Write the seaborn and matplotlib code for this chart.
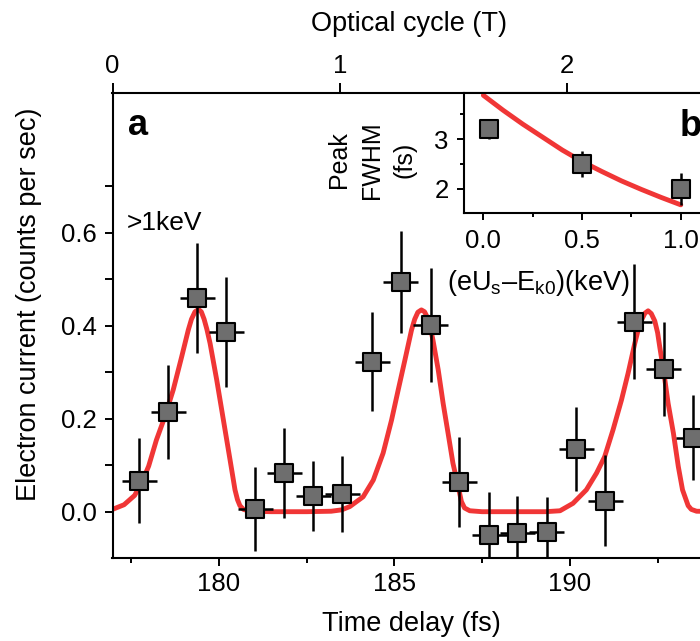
import numpy as np
import pandas as pd
import matplotlib
matplotlib.use("Agg")
import matplotlib.pyplot as plt
from matplotlib.ticker import FixedLocator
import seaborn as sns

# ---- panel a: electron current vs. time delay ----
delay = [177.73, 178.56, 179.38, 180.21, 181.04, 181.87, 182.69, 183.52, 184.37, 185.18,
         186.03, 186.85, 187.70, 188.50, 189.34, 190.18, 191.01, 191.84, 192.68, 193.51]
current = [0.067, 0.214, 0.460, 0.387, 0.006, 0.084, 0.034, 0.038, 0.323, 0.494,
           0.402, 0.064, -0.050, -0.046, -0.043, 0.135, 0.024, 0.409, 0.307, 0.159]
current_err = [0.091, 0.101, 0.118, 0.118, 0.091, 0.097, 0.076, 0.082, 0.106, 0.110,
               0.123, 0.097, 0.092, 0.080, 0.075, 0.091, 0.097, 0.123, 0.102, 0.091]
delay_err = [0.5] * len(delay)

# fitted current (red curve)
fit_delay = [176.97, 177.30, 177.60, 177.80, 178.00, 178.22, 178.46, 178.70, 178.94, 179.13,
             179.22, 179.32, 179.42, 179.50, 179.58, 179.66, 179.75, 179.94, 180.13, 180.32,
             180.46, 180.53, 180.60, 180.70, 180.88, 181.50, 182.50, 183.20, 183.50, 183.73,
             184.11, 184.40, 184.68, 184.92, 185.11, 185.30, 185.49, 185.58, 185.67, 185.77,
             185.86, 185.94, 186.02, 186.10, 186.25, 186.39, 186.53, 186.67, 186.82, 186.91,
             187.00, 187.15, 187.50, 188.50, 189.30, 189.72, 190.09, 190.47, 190.76, 190.99,
             191.23, 191.47, 191.66, 191.85, 191.95, 192.04, 192.14, 192.23, 192.32, 192.42,
             192.50, 192.56, 192.68, 192.80, 192.95, 193.09, 193.21, 193.37, 193.46, 193.61,
             194.50, 197.00]
fit_current = [0.005, 0.015, 0.035, 0.062, 0.098, 0.154, 0.204, 0.262, 0.333, 0.391,
               0.414, 0.430, 0.435, 0.430, 0.414, 0.392, 0.362, 0.283, 0.197, 0.111,
               0.047, 0.026, 0.013, 0.005, 0.001, 0.000, 0.000, 0.001, 0.004, 0.011,
               0.032, 0.068, 0.126, 0.197, 0.262, 0.326, 0.391, 0.414, 0.429, 0.434,
               0.430, 0.418, 0.398, 0.369, 0.305, 0.233, 0.169, 0.104, 0.054, 0.022,
               0.008, 0.002, 0.000, 0.000, 0.000, 0.002, 0.018, 0.047, 0.083, 0.118,
               0.176, 0.240, 0.298, 0.362, 0.392, 0.412, 0.427, 0.432, 0.426, 0.410,
               0.385, 0.355, 0.298, 0.233, 0.169, 0.097, 0.047, 0.013, 0.005, 0.001,
               0.000, 0.000]

# ---- panel b: peak FWHM vs. energy above threshold ----
energy = [0.03, 0.5, 1.0]
fwhm = [3.2, 2.5, 2.0]
fwhm_err = [0.2, 0.26, 0.32]
fit_energy = [0.0, 0.1, 0.2, 0.3, 0.4, 0.5, 0.6, 0.7, 0.8, 0.9, 1.0]
fit_fwhm = [3.88, 3.58, 3.30, 3.04, 2.78, 2.55, 2.35, 2.16, 1.99, 1.83, 1.68]

y_ticks = [0.0, 0.1, 0.2, 0.3, 0.4, 0.5, 0.6, 0.7]
y_ticklabels = ["0.0", "", "0.2", "", "0.4", "", "0.6", ""]
x_ticks = [180, 185, 190]
cycle_ticks = [0, 1, 2, 3]

RED = "#f03636"
GREY = "#6e6e6e"
FS = 18.5      # tick labels
FL = 19.5      # axis labels

sns.set_theme(style="ticks")
plt.rcParams["font.family"] = ["Liberation Sans", "DejaVu Sans"]
plt.rcParams["mathtext.fontset"] = "custom"
plt.rcParams["mathtext.rm"] = "Liberation Sans"
plt.rcParams["mathtext.it"] = "Liberation Sans:italic"
plt.rcParams["axes.linewidth"] = 1.5
plt.rcParams["xtick.major.width"] = 1.4
plt.rcParams["ytick.major.width"] = 1.4
plt.rcParams["xtick.minor.width"] = 1.4
plt.rcParams["ytick.minor.width"] = 1.4
plt.rcParams["text.color"] = "black"
plt.rcParams["axes.labelcolor"] = "black"
plt.rcParams["xtick.color"] = "black"
plt.rcParams["ytick.color"] = "black"

W, H = 700, 641
fig = plt.figure(figsize=(W / 100, H / 100), dpi=100)

T0, PERIOD = 176.97, 6.474
XMAX = 197.0
AX_W = (XMAX - T0) * 35.1
ax = fig.add_axes([112.5 / W, (H - 558.2) / H, AX_W / W, 465 / H])

sns.lineplot(x=fit_delay, y=fit_current, ax=ax, color=RED, lw=3.5,
             estimator=None, sort=False, zorder=2)
ax.errorbar(delay, current, xerr=delay_err, yerr=current_err, fmt="none",
            ecolor="black", elinewidth=1.8, capsize=0, zorder=3)
sns.scatterplot(x=delay, y=current, ax=ax, marker="s", s=155, color=GREY,
                edgecolor="black", linewidth=1.5, zorder=4)

ax.set_xlim(T0, XMAX)
ax.set_ylim(-0.1, 0.9)
ax.set_xticks(x_ticks)
ax.xaxis.set_minor_locator(FixedLocator([177.5, 182.5, 187.5, 192.5, 197.5]))
ax.set_yticks(y_ticks)
ax.set_yticklabels(y_ticklabels)
ax.tick_params(axis="x", which="major", direction="out", length=6, pad=4, labelsize=FS, top=False)
ax.tick_params(axis="x", which="minor", direction="out", length=3.5, top=False)
ax.tick_params(axis="y", which="major", direction="out", length=5.5, pad=5.5, labelsize=FS, right=False)
for s in ["left", "bottom", "top", "right"]:
    ax.spines[s].set_visible(True)
    ax.spines[s].set_color("black")

ax.set_xlabel("Time delay (fs)", fontsize=FL)
ax.xaxis.set_label_coords((410.9 - 112.5) / AX_W, -(611 - 558.2) / 465)
ax.set_ylabel("Electron current (counts per sec)", fontsize=FL)
ax.yaxis.set_label_coords(-(112.5 - 42) / AX_W, 0.547)

ax.text(177.38, 0.606, ">1keV", fontsize=19, va="baseline", ha="left")
ax.text(177.41, 0.81, "a", fontsize=26, fontweight="bold", va="baseline", ha="left")

# optical cycles along the top
axt = ax.twiny()
axt.set_xlim(0, (XMAX - T0) / PERIOD)
axt.set_xticks(cycle_ticks)
axt.tick_params(axis="x", which="major", direction="out", length=7, pad=4, labelsize=FS)
axt.set_xlabel("Optical cycle (T)", fontsize=FL)
axt.xaxis.set_label_coords((409 - 112.5) / AX_W, (558.2 - 37) / 465)
axt.xaxis.label.set_verticalalignment("bottom")
for s in axt.spines.values():
    s.set_visible(False)

# ---- inset ----
axin = fig.add_axes([464 / W, (H - 213.3) / H, 276 / W, 120 / H], zorder=5)
axin.set_facecolor("white")
sns.lineplot(x=fit_energy, y=fit_fwhm, ax=axin, color=RED, lw=3.5,
             estimator=None, sort=False, zorder=2)
axin.errorbar(energy, fwhm, yerr=fwhm_err, fmt="none", ecolor="black",
              elinewidth=1.8, capsize=0, zorder=3)
sns.scatterplot(x=energy, y=fwhm, ax=axin, marker="s", s=170, color=GREY,
                edgecolor="black", linewidth=1.5, zorder=4)
axin.set_xlim(-0.098, 1.3)
axin.set_ylim(1.51, 3.92)
axin.set_xticks([0.0, 0.5, 1.0])
axin.set_xticklabels(["0.0", "0.5", "1.0"])
axin.xaxis.set_minor_locator(FixedLocator([0.25, 0.75, 1.25]))
axin.set_yticks([2, 3])
axin.yaxis.set_minor_locator(FixedLocator([2.5, 3.5]))
axin.tick_params(axis="both", which="major", direction="out", length=5, pad=6, labelsize=FS)
axin.tick_params(axis="both", which="minor", direction="out", length=2.8)
for s in ["left", "bottom", "top"]:
    axin.spines[s].set_visible(True)
    axin.spines[s].set_color("black")
axin.spines["right"].set_visible(False)

axin.set_xlabel(r"(eU$_{\mathregular{s}}$–E$_{\mathregular{k0}}$)(keV)", fontsize=FL)
axin.xaxis.set_label_coords((538 - 464) / 276, -(268 - 213.3) / 120)
axin.text((372 - 464) / 276, (213.3 - 159.7) / 120, "Peak\nFWHM\n(fs)", transform=axin.transAxes,
          rotation=90, ha="center", va="center", multialignment="center",
          linespacing=1.45, fontsize=18)
axin.text((680 - 464) / 276, (213.3 - 136) / 120, "b", transform=axin.transAxes,
          fontsize=26, fontweight="bold", va="baseline", ha="left")

fig.savefig("out.png", dpi=100)
